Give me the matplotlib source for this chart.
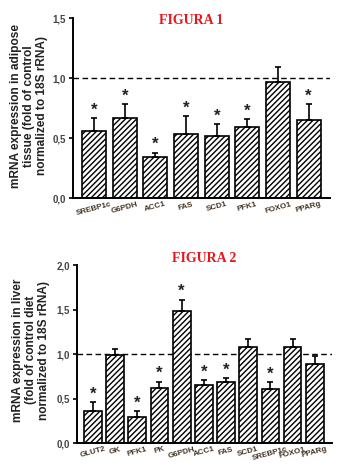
import matplotlib
matplotlib.use("Agg")
import matplotlib.pyplot as plt
import matplotlib.transforms as mtransforms
import numpy as np

plt.rcParams['font.family'] = ['Liberation Sans', 'DejaVu Sans']
plt.rcParams['hatch.linewidth'] = 1.0

genes1 = ["SREBP1c", "G6PDH", "ACC1", "FAS", "SCD1", "PFK1", "FOXO1", "PPARg"]
vals1 = [0.56, 0.67, 0.34, 0.53, 0.52, 0.59, 0.97, 0.65]
err1 = [0.11, 0.11, 0.04, 0.15, 0.10, 0.07, 0.12, 0.13]
star1 = [True, True, True, True, True, True, False, True]

genes2 = ["GLUT2", "GK", "PFK1", "PK", "G6PDH", "ACC1", "FAS", "SCD1", "SREBP1c", "FOXO1", "PPARg"]
vals2 = [0.36, 0.99, 0.29, 0.62, 1.48, 0.655, 0.68, 1.08, 0.61, 1.08, 0.89]
err2 = [0.10, 0.07, 0.07, 0.07, 0.13, 0.05, 0.05, 0.09, 0.07, 0.09, 0.09]
star2 = [True, False, True, True, True, True, True, False, True, False, False]

ylabel1 = "mRNA expression in adipose\ntissue (fold of control\nnormalized to 18S rRNA)"
ylabel2 = "mRNA expression in liver\n(fold of control diet\nnormalized to 18S rRNA)"

fig = plt.figure(figsize=(3.45, 4.74), dpi=100)

def draw(ax, genes, vals, errs, stars, ylim, yticks, width, xpad, starpad, xshift):
    x = np.arange(len(genes))
    ax.bar(x, vals, width=width, color='white', edgecolor='black', linewidth=1.2,
           hatch='//////', zorder=2)
    ax.errorbar(x, vals, yerr=[np.zeros(len(vals)), errs], fmt='none', ecolor='black',
                elinewidth=1.2, capsize=2.5, capthick=1.2, zorder=3)
    for xi, v, e, s in zip(x, vals, errs, stars):
        if s:
            ax.text(xi, v + e + starpad, '*', ha='center', va='center', fontsize=12,
                    fontweight='bold', color='#222222')
    ax.axhline(1.0, color='black', linestyle=(0, (4, 2.5)), linewidth=1.0, zorder=1)
    ax.set_xlim(-xpad[0], len(genes) - 1 + xpad[1])
    ax.set_ylim(*ylim)
    ax.set_yticks(yticks)
    ax.set_yticklabels([f"{t:.1f}".replace('.', ',') for t in yticks], fontsize=7,
                       fontweight='bold', color='#444444')
    ax.set_xticks(x)
    ax.set_xticklabels(genes, rotation=15, fontsize=5.8, fontweight='bold', color='#443322',
                       ha='center')
    off = mtransforms.ScaledTranslation(xshift / 100, 0, fig.dpi_scale_trans)
    for lab in ax.get_xticklabels():
        lab.set_transform(lab.get_transform() + off)
    ax.tick_params(axis='x', length=0, pad=2)
    ax.tick_params(axis='y', length=3, width=1.2, pad=2)
    for sp in ['top', 'right']:
        ax.spines[sp].set_visible(False)
    for sp in ['left', 'bottom']:
        ax.spines[sp].set_linewidth(1.4)

ax1 = fig.add_axes([0.2116, 0.582, 0.745, 0.380])
draw(ax1, genes1, vals1, err1, star1, (0, 1.5), [0.0, 0.5, 1.0, 1.5], 0.78, (0.69, 0.70),
     0.065, -6)

ax2 = fig.add_axes([0.223, 0.0654, 0.739, 0.3755])
draw(ax2, genes2, vals2, err2, star2, (0, 2.0), [0.0, 0.5, 1.0, 1.5, 2.0], 0.80, (0.72, 0.77),
     0.09, -4)

fig.text(29/345, 1 - 106/474, ylabel1, rotation=90, ha='center', va='center', fontsize=8.6,
         fontweight='bold', color='#222222', linespacing=1.15, multialignment='center')
fig.text(31/345, 1 - 350/474, ylabel2, rotation=90, ha='center', va='center', fontsize=8.6,
         fontweight='bold', color='#222222', linespacing=1.15, multialignment='center')

fig.text(191/345, 1 - 20/474, "FIGURA 1", color='#e8161c', fontsize=10, fontweight='heavy',
         family=['Liberation Serif'], ha='center', va='center')
fig.text(204/345, 1 - 259/474, "FIGURA 2", color='#e8161c', fontsize=10, fontweight='heavy',
         family=['Liberation Serif'], ha='center', va='center')

fig.savefig("out.png", dpi=100)
